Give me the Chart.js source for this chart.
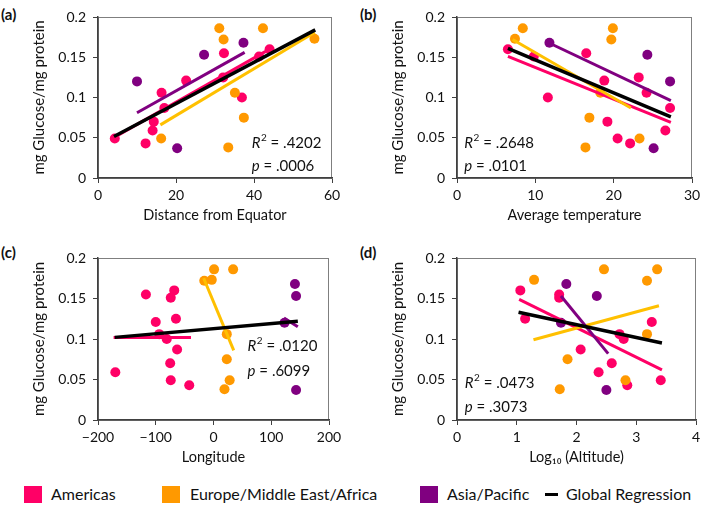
<!DOCTYPE html>
<html>
<head>
<meta charset="utf-8">
<script src="https://cdn.jsdelivr.net/npm/chart.js@4.4.1/dist/chart.umd.min.js"></script>
<style>
  body { margin: 0; width: 709px; height: 506px; background: #fff; position: relative; overflow: hidden; font-family: Lato, sans-serif; color: #111; }
  .panel { position: absolute; width: 350px; height: 232px; }
  .tag { position: absolute; font-weight: bold; font-size: 15px; }
  .sw { position: absolute; top: 486px; width: 18px; height: 17px; }
  .lbl { position: absolute; top: 484px; font-size: 16px; line-height: 20px; }
</style>
</head>
<body>
<div class="tag" style="left:1px;top:5px">(a)</div>
<div class="tag" style="left:360px;top:5px">(b)</div>
<div class="tag" style="left:1px;top:243px">(c)</div>
<div class="tag" style="left:360px;top:243px">(d)</div>

<div class="panel" style="left:0;top:0"><canvas id="chartA"></canvas></div>
<div class="panel" style="left:359px;top:0"><canvas id="chartB"></canvas></div>
<div class="panel" style="left:0;top:240px"><canvas id="chartC"></canvas></div>
<div class="panel" style="left:359px;top:240px"><canvas id="chartD"></canvas></div>

<div class="sw" style="left:24px;background:#FF0066"></div><div class="lbl" style="left:51px">Americas</div>
<div class="sw" style="left:162px;background:#FF9900"></div><div class="lbl" style="left:190px">Europe/Middle East/Africa</div>
<div class="sw" style="left:420px;background:#800080"></div><div class="lbl" style="left:447px">Asia/Pacific</div>
<div style="position:absolute;left:545px;top:493px;width:13px;height:3px;background:#000"></div><div class="lbl" style="left:566px">Global Regression</div>

<script>
// glucose per sample, with matching x values for each panel
const americasGlucose = [0.043, 0.049, 0.059, 0.070, 0.087, 0.100, 0.106, 0.121, 0.125, 0.151, 0.155, 0.160];
const americasDistance = [12.2, 4.3, 14.0, 14.3, 17.0, 36.9, 16.3, 22.6, 32.1, 41.3, 32.3, 44.0];
const americasTemperature = [22.1, 20.5, 26.6, 19.2, 27.2, 11.6, 24.2, 18.8, 23.2, 9.8, 16.5, 6.5];
const americasLongitude = [-42, -74, -170, -75, -63, -81, -94, -100, -65, -74, -117, -68];
const americasAltitude = [2.85, 3.41, 2.37, 2.59, 2.07, 2.79, 2.72, 3.26, 1.14, 1.71, 1.71, 1.06];

const europeGlucose = [0.038, 0.049, 0.075, 0.106, 0.172, 0.173, 0.186, 0.186];
const europeDistance = [33.4, 16.2, 37.4, 35.1, 32.2, 55.5, 31.1, 42.3];
const europeTemperature = [16.4, 23.3, 16.9, 18.3, 19.7, 7.4, 8.4, 19.9];
const europeLongitude = [19, 28, 23, 23, -16, -3, 1, 34];
const europeAltitude = [1.72, 2.82, 1.85, 3.18, 3.18, 1.29, 2.46, 3.35];

const asiaGlucose = [0.037, 0.120, 0.153, 0.168];
const asiaDistance = [20.3, 10.0, 27.2, 37.3];
const asiaTemperature = [25.1, 27.2, 24.3, 11.8];
const asiaLongitude = [143, 123, 143, 141];
const asiaAltitude = [2.50, 1.74, 2.34, 1.83];

// regression line ends [x1, y1, x2, y2]: americas, europe, asia, global
const distanceFits = [[3.8, 0.0495, 44.7, 0.162], [16.0, 0.066, 55.6, 0.181], [10.0, 0.081, 37.6, 0.156], [4.1, 0.0515, 55.7, 0.184]];
const temperatureFits = [[6.5, 0.151, 27.3, 0.069], [7.1, 0.172, 22.2, 0.087], [11.7, 0.168, 27.3, 0.096], [6.5, 0.161, 27.3, 0.076]];
const longitudeFits = [[-173, 0.102, -39, 0.102], [-17, 0.175, 35, 0.086], [122, 0.126, 146, 0.115], [-171, 0.102, 146, 0.122]];
const altitudeFits = [[1.04, 0.149, 3.43, 0.062], [1.28, 0.099, 3.38, 0.141], [1.74, 0.153, 2.53, 0.082], [1.03, 0.133, 3.43, 0.095]];

const distanceStats = ['.4202', '.0006'];
const temperatureStats = ['.2648', '.0101'];
const longitudeStats = ['.0120', '.6099'];
const altitudeStats = ['.0473', '.3073'];

const dotColors = ['#FF0066', '#FF9900', '#800080'];
const lineColors = ['#FF0066', '#FFC000', '#800080', '#000000'];
const FONT = 'Lato';

function pts(xs, ys) {
  return xs.map((x, i) => ({ x: x, y: ys[i] }));
}

const statsPlugin = {
  id: 'stats',
  beforeDraw(chart) {
    const { ctx, chartArea: a } = chart;
    ctx.save();
    ctx.strokeStyle = '#7f7f7f';
    ctx.lineWidth = 1;
    ctx.strokeRect(a.left + 0.5, a.top + 0.5, a.width - 1, a.height);
    ctx.restore();
  },
  afterDatasetsDraw(chart, args, opts) {
    const ctx = chart.ctx;
    const x = chart.scales.x.getPixelForValue(opts.x);
    const y1 = chart.scales.y.getPixelForValue(opts.y[0]);
    const y2 = chart.scales.y.getPixelForValue(opts.y[1]);
    ctx.save();
    ctx.fillStyle = '#111';
    ctx.textBaseline = 'middle';
    ctx.font = 'italic 15px ' + FONT;
    ctx.fillText('R', x, y1);
    let w = ctx.measureText('R').width + 0.5;
    ctx.font = '10px ' + FONT;
    ctx.fillText('2', x + w, y1 - 5);
    w += ctx.measureText('2').width;
    ctx.font = '15px ' + FONT;
    ctx.fillText(' = ' + opts.text[0], x + w, y1);
    ctx.font = 'italic 15px ' + FONT;
    ctx.fillText('p', x, y2);
    w = ctx.measureText('p').width;
    ctx.font = '15px ' + FONT;
    ctx.fillText(' = ' + opts.text[1], x + w, y2);
    ctx.restore();
  }
};

function makePanel(id, cfg) {
  const datasets = [];
  const xs = [cfg.americas, cfg.europe, cfg.asia];
  const ys = [americasGlucose, europeGlucose, asiaGlucose];
  cfg.fits.forEach((f, i) => {
    datasets.push({
      data: [{ x: f[0], y: f[1] }, { x: f[2], y: f[3] }],
      showLine: true,
      borderColor: lineColors[i],
      borderWidth: i === 3 ? 3.5 : 3,
      pointRadius: 0,
      order: 4 - i
    });
  });
  xs.forEach((xv, i) => {
    datasets.push({
      data: pts(xv, ys[i]),
      backgroundColor: dotColors[i],
      borderWidth: 0,
      pointRadius: 5,
      order: 10 - i
    });
  });

  new Chart(document.getElementById(id), {
    type: 'scatter',
    data: { datasets: datasets },
    options: {
      responsive: true,
      maintainAspectRatio: false,
      animation: false,
      layout: { padding: { top: cfg.pad[0], right: cfg.pad[1], left: 0, bottom: 0 } },
      plugins: {
        legend: { display: false },
        tooltip: { enabled: false },
        stats: { x: cfg.statX, y: cfg.statY, text: cfg.stats }
      },
      scales: {
        x: {
          type: 'linear',
          min: cfg.xMin, max: cfg.xMax,
          afterFit: s => { s.height = cfg.pad[2]; },
          ticks: {
            stepSize: cfg.xStep,
            color: '#111',
            padding: 4,
            maxRotation: 0,
            font: { family: FONT, size: 14 },
            callback: v => String(v).replace('-', '\u2212')
          },
          grid: { drawOnChartArea: false, tickLength: 5, color: '#404040' },
          border: { color: '#404040', width: 1.5 },
          title: { display: true, text: cfg.xTitle, color: '#111', font: { family: FONT, size: 14.5 }, padding: { top: 0, bottom: cfg.titlePad } }
        },
        y: {
          min: 0, max: 0.2,
          afterFit: s => { s.width = 98; },
          ticks: {
            stepSize: 0.05,
            color: '#111',
            padding: 7,
            font: { family: FONT, size: 14 },
            callback: v => String(+v.toFixed(2))
          },
          grid: { drawOnChartArea: false, tickLength: 5, color: '#404040' },
          border: { color: '#404040', width: 1.5 },
          title: { display: true, text: 'mg Glucose/mg protein', color: '#111', font: { family: FONT, size: 15 }, padding: { top: 30, bottom: 0 } }
        }
      }
    },
    plugins: [statsPlugin]
  });
}

makePanel('chartA', {
  americas: americasDistance, europe: europeDistance, asia: asiaDistance,
  fits: distanceFits, stats: distanceStats,
  xMin: 0, xMax: 60, xStep: 20, xTitle: 'Distance from Equator',
  statX: 39.4, statY: [0.0435, 0.0149],
  pad: [17, 18, 54], titlePad: 7.5
});
makePanel('chartB', {
  americas: americasTemperature, europe: europeTemperature, asia: asiaTemperature,
  fits: temperatureFits, stats: temperatureStats,
  xMin: 0, xMax: 30, xStep: 10, xTitle: 'Average temperature',
  statX: 0.93, statY: [0.0435, 0.0149],
  pad: [17, 17, 54], titlePad: 7.5
});
makePanel('chartC', {
  americas: americasLongitude, europe: europeLongitude, asia: asiaLongitude,
  fits: longitudeFits, stats: longitudeStats,
  xMin: -200, xMax: 200, xStep: 100, xTitle: 'Longitude',
  statX: 59, statY: [0.0917, 0.0605],
  pad: [18, 21, 52], titlePad: 6
});
makePanel('chartD', {
  americas: americasAltitude, europe: europeAltitude, asia: asiaAltitude,
  fits: altitudeFits, stats: altitudeStats,
  xMin: 0, xMax: 4, xStep: 1, xTitle: 'Log\u2081\u2080 (Altitude)',
  statX: 0.13, statY: [0.046, 0.0157],
  pad: [18, 13, 52], titlePad: 6
});
</script>
</body>
</html>
